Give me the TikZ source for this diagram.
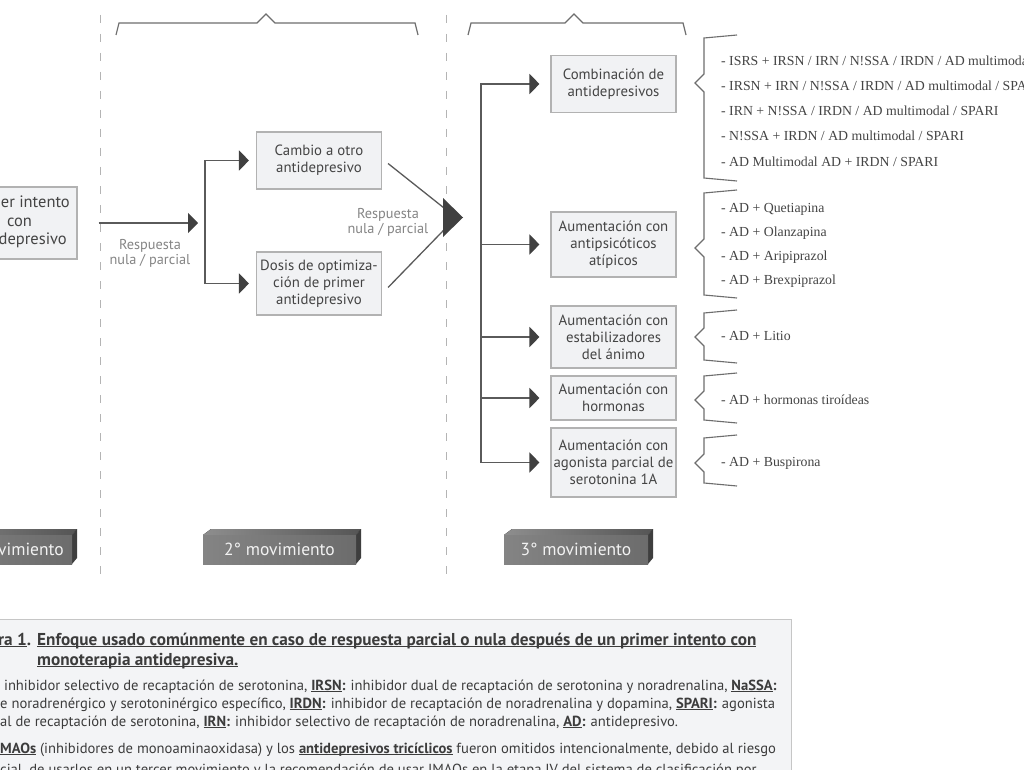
\documentclass[tikz,border=0pt]{standalone}
\usepackage{fontspec}
\setmainfont{PT Sans}
\newfontfamily\listfont{Liberation Serif}
\usetikzlibrary{arrows.meta,calc}
\definecolor{boxfill}{HTML}{F1F2F4}
\definecolor{boxline}{HTML}{B2B2B2}
\definecolor{linec}{HTML}{5A5A5A}
\definecolor{arrowc}{HTML}{404040}
\definecolor{txt}{HTML}{444444}
\definecolor{lbl}{HTML}{858585}
\definecolor{dashc}{HTML}{B4B4B4}
\definecolor{brc}{HTML}{6E6E6E}
\definecolor{capfill}{HTML}{F3F4F6}
\definecolor{capline}{HTML}{C6C6C6}
\definecolor{captxt}{HTML}{3C3C3C}
\definecolor{movL}{HTML}{848484}
\definecolor{movR}{HTML}{6C6C6C}
\definecolor{movTL}{HTML}{8E8E8E}
\definecolor{movTR}{HTML}{555555}
\definecolor{movS}{HTML}{3E3E3E}
\definecolor{movT}{HTML}{F2F2F2}
\newcommand\myul[1]{\underline{\smash{#1}}}
\newcommand\movfaces[2]{%
  \fill[left color=movTL,right color=movTR] (#1,535) -- ({#1+8},529) -- ({#2+5},529) -- (#2,535) -- cycle;
  \fill[movS] (#2,535) -- ({#2+5},529) -- ({#2+5},558) -- (#2,564) -- cycle;
}
\newcommand\brgroup[3]{%
  \draw[brace] (737,{#1-3}) -- (704,#1) -- (704,{#2-9}) -- (695,#2) -- (704,{#2+9}) -- (704,#3) -- (737,{#3+3});
}
\begin{document}
\begin{tikzpicture}[x=1pt,y=-1pt,
  box/.style={draw=boxline, fill=boxfill, line width=1.1pt, text=txt,
    font=\fontsize{14.8}{17}\selectfont, align=center, inner sep=0pt, minimum width=125pt},
  conn/.style={draw=linec, line width=1.4pt, -{Triangle[length=10pt,width=20pt,color=arrowc]}},
  plain/.style={draw=linec, line width=1.3pt},
  lbltxt/.style={text=lbl, font=\fontsize{14.3}{15}\selectfont, align=center, inner sep=0pt},
  item/.style={text=txt, font=\listfont\fontsize{13.8}{16}\selectfont, anchor=west, inner sep=0pt},
  brace/.style={draw=brc, line width=1.1pt},
  topbr/.style={draw=brc, line width=1.2pt},
  dashv/.style={draw=dashc, line width=1pt, dash pattern=on 8pt off 11pt},
  movfont/.style={text=movT, font=\fontsize{17.5}{19}\selectfont},
  movfront/.style={left color=movL, right color=movR, movfont, inner sep=0pt, minimum height=29pt},
  captxtst/.style={text=captxt, anchor=base west, inner sep=0pt, font=\fontsize{14.6}{17}\selectfont},
  captitle/.style={text=captxt, anchor=base west, inner sep=0pt, font=\bfseries\fontsize{17.2}{19}\selectfont}
]
\useasboundingbox (0,0) rectangle (1024,770);
\fill[white] (0,0) rectangle (1024,770);

% dashed separators
\coordinate (d1t) at (100,15); \coordinate (d1b) at (100,584);
\coordinate (d2t) at (446,15); \coordinate (d2b) at (446,584);
\draw[dashv] (d1t) -- (d1b);
\draw[dashv] (d2t) -- (d2b);

% top brackets
\draw[topbr] (116,35) -- (119,23) -- (257,23) -- (266,14) -- (275,23) -- (415,23) -- (418,35);
\draw[topbr] (468,35) -- (471,23) -- (565,23) -- (574,14) -- (583,23) -- (683,23) -- (686,35);

% first movement box (cut at left)
\node[box, minimum width=130pt, minimum height=72pt] (b0) at (12,223) {};
\node[text=txt, font=\fontsize{16.5}{19}\selectfont, anchor=base east, inner sep=0pt] (b0a) at (70,207) {er intento};
\node[text=txt, font=\fontsize{16.5}{19}\selectfont, anchor=base, inner sep=0pt] (b0b) at (19.5,226) {con};
\node[text=txt, font=\fontsize{16.5}{19}\selectfont, anchor=base east, inner sep=0pt] (b0c) at (67,244) {depresivo};

% second movement
\node[box, minimum height=57pt] (b1) at (319,160.5) {Cambio a otro\\antidepresivo};
\node[box, minimum height=63pt] (b2) at (319,283.5) {Dosis de optimiza-\\ción de primer\\antidepresivo};
\coordinate (s1) at (205,223);
\draw[conn, shorten <=21pt, shorten >=7pt] (b0.east) -- (s1);
\draw[conn, shorten >=7pt] (s1) |- (b1.west);
\draw[conn, shorten >=7pt] (s1) |- (b2.west);
\node[lbltxt] (l1) at (150,253) {Respuesta\\nula / parcial};

\coordinate (m2) at (456,217.5);
\draw[plain] ($(b1.east)+(6,3)$) -- (m2);
\draw[plain] ($(b2.east)+(6,4)$) -- (m2);
\fill[arrowc] (443,198) -- (463,217.5) -- (443,237) -- cycle;
\node[lbltxt] (l2) at (388,222) {Respuesta\\nula / parcial};

% third movement
\node[box, minimum height=57pt] (c1) at (613.5,84) {Combinación de\\antidepresivos};
\node[box, minimum height=65pt] (c2) at (613.5,244.5) {Aumentación con\\antipsicóticos\\atípicos};
\node[box, minimum height=62pt] (c3) at (613.5,337) {Aumentación con\\estabilizadores\\del ánimo};
\node[box, minimum height=44pt] (c4) at (613.5,398) {Aumentación con\\hormonas};
\node[box, minimum height=69pt] (c5) at (613.5,462.5) {Aumentación con\\agonista parcial de\\serotonina 1A};
\coordinate (s3) at (481,217);
\foreach \n in {c1,c2,c3,c4,c5}{
  \draw[conn, shorten >=11pt] (s3) |- (\n.west);
}

% braces
\brgroup{38}{83}{178}
\brgroup{193}{248}{295}
\brgroup{313}{337}{360}
\brgroup{376}{400}{420}
\brgroup{438}{463}{483}

% list items
\node[item] (i1) at (721,61) {- ISRS + IRSN / IRN / N!SSA / IRDN / AD multimodal};
\node[item] (i2) at (721,86) {- IRSN + IRN / N!SSA / IRDN / AD multimodal / SPA};
\node[item] (i3) at (721,111) {- IRN + N!SSA / IRDN / AD multimodal / SPARI};
\node[item] (i4) at (721,136) {- N!SSA + IRDN / AD multimodal / SPARI};
\node[item] (i5) at (721,162) {- AD Multimodal AD + IRDN / SPARI};
\node[item] (i6) at (721,209) {- AD + Quetiapina};
\node[item] (i7) at (721,233) {- AD + Olanzapina};
\node[item] (i8) at (721,257) {- AD + Aripiprazol};
\node[item] (i9) at (721,281) {- AD + Brexpiprazol};
\node[item] (i10) at (721,336) {- AD + Litio};
\node[item] (i11) at (721,400) {- AD + hormonas tiroídeas};
\node[item] (i12) at (721,463) {- AD + Buspirona};

% movement labels
\movfaces{-90}{72}
\node[movfront, minimum width=162pt] (mv1) at (-9,549.5) {};
\node[movfont, inner sep=0pt, anchor=east] (mv1t) at (64,549.5) {vimiento};
\movfaces{203}{356}
\node[movfront, minimum width=153pt] (mv2) at (279.5,549.5) {2° movimiento};
\movfaces{504}{648}
\node[movfront, minimum width=144pt] (mv3) at (576,549.5) {3° movimiento};

% caption
\path[fill=capfill, draw=capline, line width=1pt] (-5,619) rectangle (791,800);
\node[captitle] (ct0) at (-2,645) {\myul{ra 1}.};
\node[captitle] (ct1) at (37,645) {\myul{Enfoque usado comúnmente en caso de respuesta parcial o nula después de un primer intento con}};
\node[captitle] (ct2) at (37,665) {\myul{monoterapia antidepresiva.}};
\node[captxtst] (cl3) at (0,690) {\ inhibidor selectivo de recaptación de serotonina, \textbf{\myul{IRSN}:} inhibidor dual de recaptación de serotonina y noradrenalina, \textbf{\myul{NaSSA}:}};
\node[captxtst] (cl4) at (0,708) {e noradrenérgico y serotoninérgico específico, \textbf{\myul{IRDN}:} inhibidor de recaptación de noradrenalina y dopamina, \textbf{\myul{SPARI}:} agonista};
\node[captxtst] (cl5) at (0,726) {al de recaptación de serotonina, \textbf{\myul{IRN}:} inhibidor selectivo de recaptación de noradrenalina, \textbf{\myul{AD}:} antidepresivo.};
\node[captxtst] (cl6) at (0,753) {\textbf{\myul{MAOs}} (inhibidores de monoaminaoxidasa) y los \textbf{\myul{antidepresivos tricíclicos}} fueron omitidos intencionalmente, debido al riesgo};
\node[captxtst] (cl7) at (0,774) {cial, de usarlos en un tercer movimiento y la recomendación de usar IMAOs en la etapa IV del sistema de clasificación por};
\end{tikzpicture}
\end{document}
